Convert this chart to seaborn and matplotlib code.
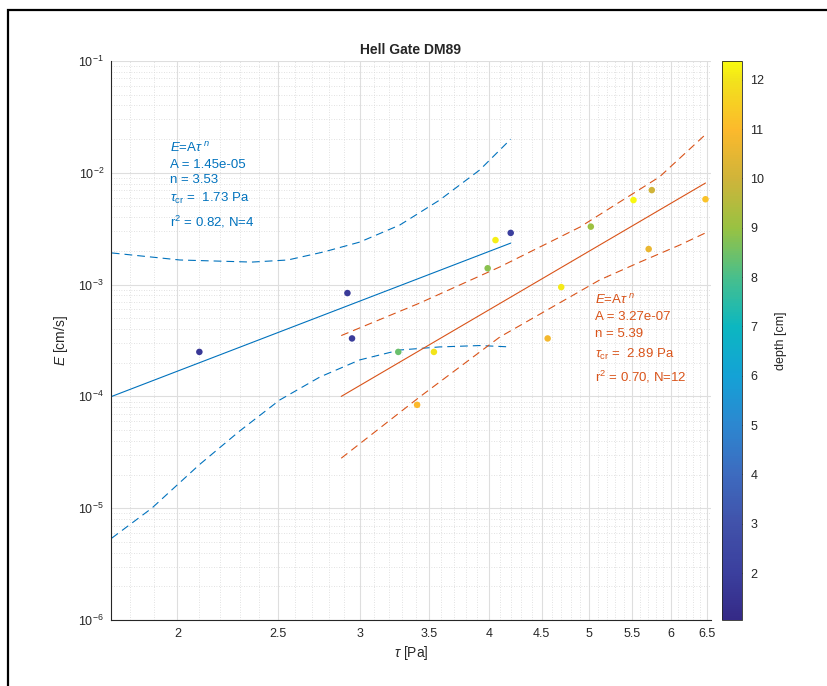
import numpy as np
import pandas as pd
import matplotlib
matplotlib.use("Agg")
import matplotlib.pyplot as plt
import matplotlib.ticker as mticker
from matplotlib.colors import LinearSegmentedColormap, Normalize
from matplotlib.patches import Rectangle
import seaborn as sns

# ---------------- data ----------------
tau = [2.10, 2.92, 2.95, 4.20, 4.06, 3.99, 3.27, 3.54, 3.41, 4.56, 4.70, 5.02, 5.52, 5.75, 5.71, 6.48]
erosion = [2.5e-4, 8.4e-4, 3.3e-4, 2.9e-3, 2.5e-3, 1.4e-3, 2.5e-4, 2.5e-4, 8.4e-5, 3.3e-4,
           9.5e-4, 3.3e-3, 5.7e-3, 7.0e-3, 2.08e-3, 5.8e-3]
depth = [1.7, 1.8, 1.9, 2.0, 12.2, 8.8, 8.4, 12.0, 11.0, 10.8, 12.1, 9.1, 12.3, 10.0, 10.6, 11.2]

# fit 1 (blue) line and confidence bounds
fit1_tau = [1.728, 4.20]
fit1_E = [1.0e-4, 2.35e-3]
fit1_up_tau = [1.728, 2.011, 2.36, 2.557, 2.77, 3.001, 3.281, 3.585, 3.92, 4.20]
fit1_up_E = [1.92e-3, 1.66e-3, 1.59e-3, 1.66e-3, 1.96e-3, 2.40e-3, 3.41e-3, 5.7e-3, 1.06e-2, 2.0e-2]
fit1_lo_tau = [1.728, 1.889, 2.10, 2.297, 2.512, 2.746, 3.001, 3.281, 3.585, 3.92, 4.20]
fit1_lo_E = [5.4e-6, 1.0e-5, 2.45e-5, 4.9e-5, 9.3e-5, 1.49e-4, 2.12e-4, 2.60e-4, 2.77e-4, 2.85e-4, 2.77e-4]

# fit 2 (red) line and confidence bounds
fit2_tau = [2.88, 6.48]
fit2_E = [1.0e-4, 8.1e-3]
fit2_up_tau = [2.88, 3.43, 4.10, 4.90, 5.85, 6.48]
fit2_up_E = [3.5e-4, 6.84e-4, 1.44e-3, 3.27e-3, 9.2e-3, 2.2e-2]
fit2_lo_tau = [2.88, 3.43, 4.10, 4.68, 5.12, 5.60, 6.12, 6.48]
fit2_lo_E = [2.8e-5, 9.9e-5, 3.40e-4, 6.84e-4, 1.10e-3, 1.59e-3, 2.26e-3, 2.9e-3]

fit1_text = [r"$E$=A$\tau^{\ n}$", "A = 1.45e-05", "n = 3.53", r"$\tau_{\rm cr}$ =  1.73 Pa", r"r$^2$ = 0.82, N=4"]
fit2_text = [r"$E$=A$\tau^{\ n}$", "A = 3.27e-07", "n = 5.39", r"$\tau_{\rm cr}$ =  2.89 Pa", r"r$^2$ = 0.70, N=12"]

x_major = [2, 2.5, 3, 3.5, 4, 4.5, 5, 5.5, 6, 6.5]
x_major_labels = ["2", "2.5", "3", "3.5", "4", "4.5", "5", "5.5", "6", "6.5"]
cbar_ticks = [2, 3, 4, 5, 6, 7, 8, 9, 10, 11, 12]

# ---------------- style ----------------
sns.set_style("white")
plt.rcParams["font.family"] = ["Liberation Sans", "DejaVu Sans"]
plt.rcParams["mathtext.fontset"] = "custom"
plt.rcParams["mathtext.rm"] = "Liberation Sans"
plt.rcParams["mathtext.it"] = "Liberation Sans:italic"
plt.rcParams["mathtext.bf"] = "Liberation Sans:bold"

vmin, vmax = 1.05, 12.38
# parula-like colormap, colours as they appear in the reference colorbar
cmap_stops = [
    (1.05, "#352a87"), (2.0, "#3b3f9e"), (3.0, "#4152aa"), (4.0, "#3d6bbf"),
    (5.0, "#2c87d0"), (6.0, "#14a2d6"), (7.0, "#0cb7c0"), (8.0, "#48bf8c"),
    (9.0, "#98c242"), (10.0, "#cfb43a"), (11.0, "#fcb92c"), (12.0, "#f2e21c"),
    (12.38, "#f9fb0e"),
]
parula = LinearSegmentedColormap.from_list(
    "parula", [((d - vmin) / (vmax - vmin), c) for d, c in cmap_stops], N=256)
norm = Normalize(vmin=vmin, vmax=vmax)

W, H = 828, 686
fig = plt.figure(figsize=(W / 100, H / 100), dpi=100)
ax = fig.add_axes([111 / W, (H - 620) / H, 600 / W, 559 / H])
cax = fig.add_axes([722 / W, (H - 620) / H, 20 / W, 559 / H])

ax.set_xscale("log")
ax.set_yscale("log")

blue = "#0072BD"
red = "#D95319"
dash = (0, (7, 4.5))

sns.lineplot(x=fit1_tau, y=fit1_E, ax=ax, color=blue, lw=0.8, estimator=None, sort=False)
sns.lineplot(x=fit1_up_tau, y=fit1_up_E, ax=ax, color=blue, lw=0.8, estimator=None, sort=False, linestyle=dash)
sns.lineplot(x=fit1_lo_tau, y=fit1_lo_E, ax=ax, color=blue, lw=0.8, estimator=None, sort=False, linestyle=dash)
sns.lineplot(x=fit2_tau, y=fit2_E, ax=ax, color=red, lw=0.8, estimator=None, sort=False)
sns.lineplot(x=fit2_up_tau, y=fit2_up_E, ax=ax, color=red, lw=0.8, estimator=None, sort=False, linestyle=dash)
sns.lineplot(x=fit2_lo_tau, y=fit2_lo_E, ax=ax, color=red, lw=0.8, estimator=None, sort=False, linestyle=dash)

df = pd.DataFrame({"tau": tau, "E": erosion, "depth": depth})
sns.scatterplot(data=df, x="tau", y="E", hue="depth", palette=parula, hue_norm=norm,
                s=22, edgecolor="none", legend=False, ax=ax, zorder=5)

ax.set_xlim(1.725, 6.56)
ax.set_ylim(1e-6, 1e-1)

ax.xaxis.set_major_locator(mticker.FixedLocator(x_major))
ax.xaxis.set_major_formatter(mticker.FixedFormatter(x_major_labels))
ax.xaxis.set_minor_locator(mticker.FixedLocator(np.round(np.arange(1.8, 6.56, 0.1), 2)))
ax.xaxis.set_minor_formatter(mticker.NullFormatter())
ax.yaxis.set_major_locator(mticker.LogLocator(base=10, numticks=10))
ax.yaxis.set_major_formatter(mticker.FuncFormatter(
    lambda v, p: r"$10^{%d}$" % int(round(np.log10(v)))))
ax.yaxis.set_minor_locator(mticker.LogLocator(base=10, subs=np.arange(2, 10), numticks=20))
ax.yaxis.set_minor_formatter(mticker.NullFormatter())

ax.grid(True, which="major", color="#dedede", lw=0.8, ls="-")
ax.grid(True, which="minor", color="#d8d8d8", lw=0.6, ls=(0, (1, 2)))
ax.set_axisbelow(True)

for s in ["top", "right"]:
    ax.spines[s].set_visible(False)
for s in ["left", "bottom"]:
    ax.spines[s].set_color("#262626")
    ax.spines[s].set_linewidth(0.8)
ax.tick_params(which="both", direction="in", colors="#262626", labelsize=9, top=False, right=False)
ax.tick_params(which="major", length=4, width=0.6)
ax.tick_params(which="minor", length=2, width=0.5)
ax.tick_params(axis="x", pad=6)
ax.tick_params(axis="y", pad=5)

ax.set_xlabel(r"$\tau$ [Pa]", fontsize=10, color="#262626", labelpad=3)
ax.set_ylabel(r"$E$ [cm/s]", fontsize=10, color="#262626", labelpad=6)
ax.set_title("Hell Gate DM89", fontsize=10, fontweight="bold", pad=5)

# annotations
blue_y = [0.8444, 0.814, 0.787, 0.755, 0.712]
red_y = [0.5725, 0.542, 0.5116, 0.4758, 0.4347]
for t, yy in zip(fit1_text, blue_y):
    ax.text(0.098, yy, t, transform=ax.transAxes, color=blue, fontsize=9.5, ha="left", va="center")
for t, yy in zip(fit2_text, red_y):
    ax.text(0.807, yy, t, transform=ax.transAxes, color=red, fontsize=9.5, ha="left", va="center")

# colorbar
sm = plt.cm.ScalarMappable(cmap=parula, norm=norm)
cb = fig.colorbar(sm, cax=cax)
cb.set_ticks(cbar_ticks)
cb.outline.set_edgecolor("#262626")
cb.outline.set_linewidth(0.6)
cax.tick_params(direction="in", length=4, width=0.6, labelsize=9, colors="#262626", pad=6)
cb.set_label("depth [cm]", fontsize=9, labelpad=8)

# figure frame (partially visible)
fig.patches.append(Rectangle((8 / W, -0.2), 1.5, 1.2 - 10 / H, transform=fig.transFigure,
                             fill=False, edgecolor="black", lw=1.6, clip_on=False))

fig.savefig("out.png", dpi=100)
